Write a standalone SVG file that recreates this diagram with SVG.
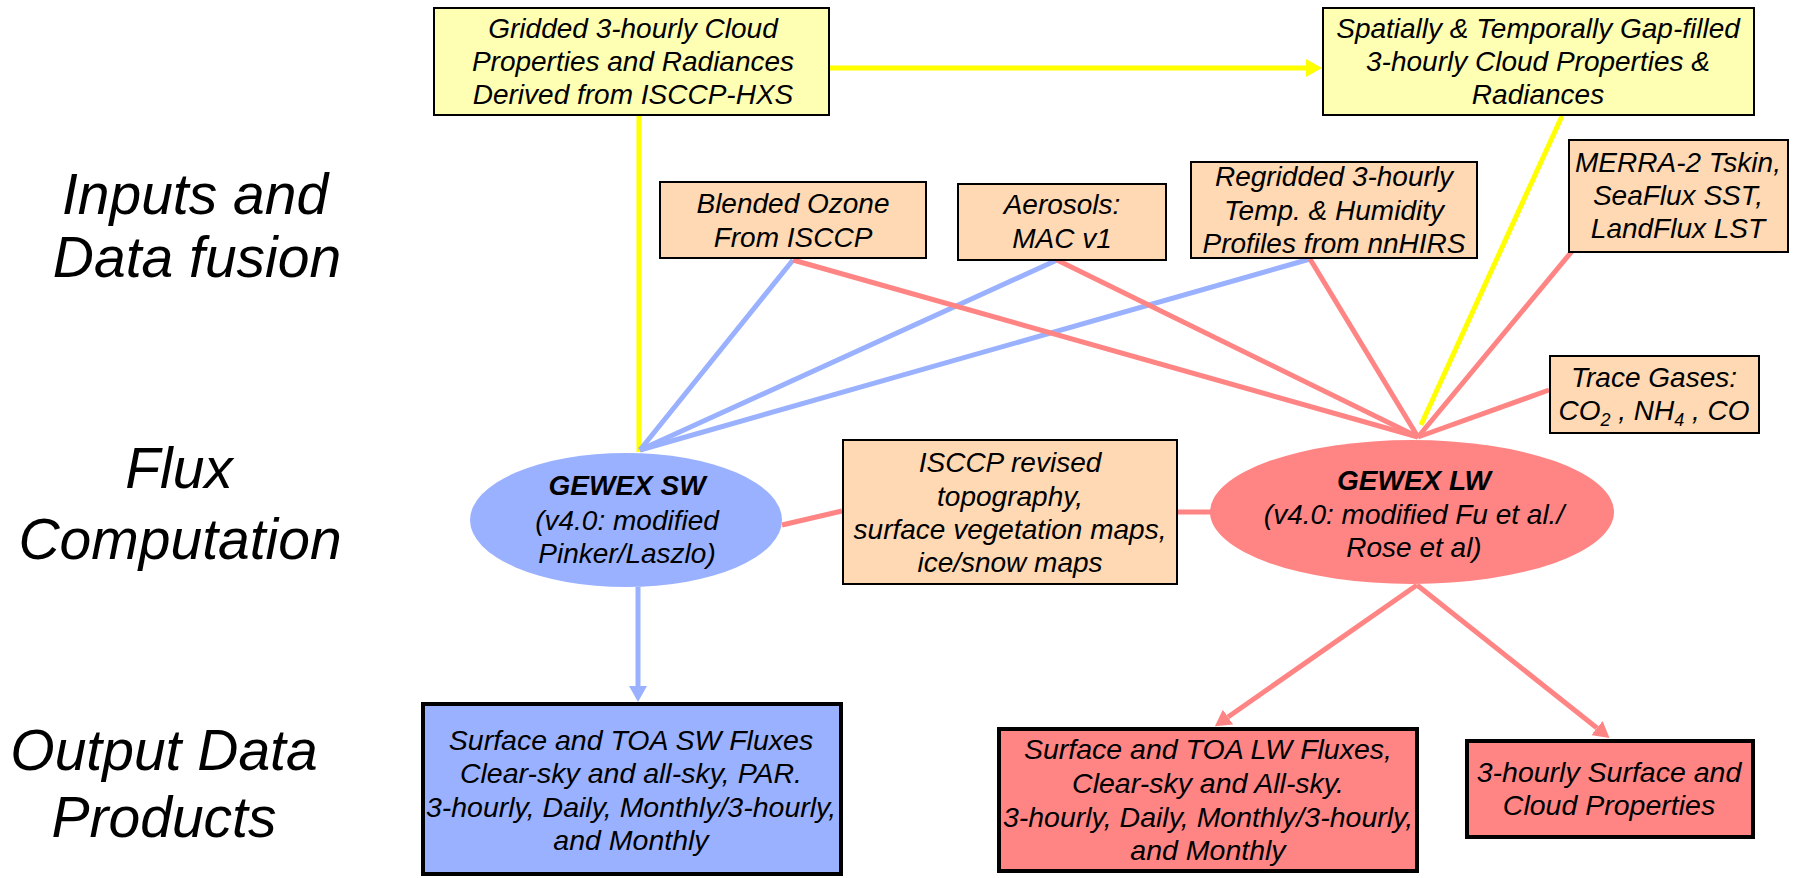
<svg xmlns="http://www.w3.org/2000/svg" width="1802" height="878" viewBox="0 0 1802 878">
  <style>
    text { font-family: "Liberation Sans", Arial, sans-serif; font-style: italic; fill: #000; }
    .lbl { font-size: 57px; text-anchor: middle; }
    .t { font-size: 28px; text-anchor: middle; }
    .o { font-size: 28.5px; }
    .b { font-weight: bold; }
    .inY { fill: #FFFFB3; stroke: #000; stroke-width: 2; }
    .inO { fill: #FFD9B3; stroke: #000; stroke-width: 2; }
    .outB { fill: #9AB1FF; stroke: #000; stroke-width: 4; }
    .outR { fill: #FF8585; stroke: #000; stroke-width: 4; }
    .yl { stroke: #FFFF00; stroke-width: 5; fill: none; }
    .bl { stroke: #9AB1FF; stroke-width: 5; fill: none; }
    .pk { stroke: #FF8585; stroke-width: 5; fill: none; }
  </style>
  <defs>
    <marker id="ahY" markerUnits="userSpaceOnUse" markerWidth="16" markerHeight="18" viewBox="0 0 16 18" refX="0" refY="9" orient="auto">
      <path d="M0,0 L16,9 L0,18 z" fill="#FFFF00"/>
    </marker>
    <marker id="ahB" markerUnits="userSpaceOnUse" markerWidth="16" markerHeight="18" viewBox="0 0 16 18" refX="0" refY="9" orient="auto">
      <path d="M0,0 L16,9 L0,18 z" fill="#9AB1FF"/>
    </marker>
    <marker id="ahP" markerUnits="userSpaceOnUse" markerWidth="16" markerHeight="18" viewBox="0 0 16 18" refX="0" refY="9" orient="auto">
      <path d="M0,0 L16,9 L0,18 z" fill="#FF8585"/>
    </marker>
  </defs>

  <rect width="1802" height="878" fill="#fff"/>

  <!-- stage labels -->
  <g id="stage-labels">
    <text class="lbl" x="195" y="214">Inputs and</text>
    <text class="lbl" x="197" y="277">Data fusion</text>
    <text class="lbl" x="179" y="488">Flux</text>
    <text class="lbl" x="180" y="559">Computation</text>
    <text class="lbl" x="164" y="770">Output Data</text>
    <text class="lbl" x="164" y="837">Products</text>
  </g>

  <!-- connectors -->
  <g id="connectors">
    <line class="yl" x1="639" y1="116" x2="639" y2="452"/>
    <line class="yl" x1="830" y1="68" x2="1306" y2="68" marker-end="url(#ahY)"/>
    <line class="yl" x1="1562" y1="116" x2="1421" y2="425"/>

    <line class="bl" x1="793" y1="260" x2="640" y2="450" stroke-width="4"/>
    <line class="bl" x1="1057" y1="260" x2="640" y2="450"/>
    <line class="bl" x1="1310" y1="259" x2="640" y2="450" stroke-width="6"/>

    <line class="pk" x1="793" y1="260" x2="1418" y2="437"/>
    <line class="pk" x1="1057" y1="260" x2="1418" y2="437"/>
    <line class="pk" x1="1310" y1="259" x2="1418" y2="437"/>
    <line class="pk" x1="1573" y1="250" x2="1418" y2="437"/>
    <line class="pk" x1="1549" y1="390" x2="1418" y2="437"/>
    <line class="pk" x1="782" y1="525" x2="842" y2="511"/>
    <line class="pk" x1="1178" y1="512" x2="1212" y2="512"/>

    <line class="bl" x1="638" y1="587" x2="638" y2="686" marker-end="url(#ahB)"/>
    <line class="pk" x1="1417" y1="585" x2="1228" y2="717" marker-end="url(#ahP)"/>
    <line class="pk" x1="1417" y1="585" x2="1597" y2="728" marker-end="url(#ahP)"/>
  </g>

  <!-- inputs -->
  <g id="gridded-cloud">
    <rect class="inY" x="434" y="8" width="395" height="107"/>
    <text class="t" x="633" y="38">Gridded 3-hourly Cloud</text>
    <text class="t" x="633" y="71">Properties and Radiances</text>
    <text class="t" x="633" y="104">Derived from ISCCP-HXS</text>
  </g>
  <g id="gapfilled-cloud">
    <rect class="inY" x="1323" y="8" width="431" height="107"/>
    <text class="t" x="1538" y="38">Spatially &amp; Temporally Gap-filled</text>
    <text class="t" x="1538" y="71">3-hourly Cloud Properties &amp;</text>
    <text class="t" x="1538" y="104">Radiances</text>
  </g>
  <g id="ozone">
    <rect class="inO" x="660" y="182" width="266" height="76"/>
    <text class="t" x="793" y="213">Blended Ozone</text>
    <text class="t" x="793" y="247">From ISCCP</text>
  </g>
  <g id="aerosols">
    <rect class="inO" x="958" y="184" width="208" height="76"/>
    <text class="t" x="1062" y="214">Aerosols:</text>
    <text class="t" x="1062" y="248">MAC v1</text>
  </g>
  <g id="profiles">
    <rect class="inO" x="1191" y="162" width="286" height="96"/>
    <text class="t" x="1334" y="186">Regridded 3-hourly</text>
    <text class="t" x="1334" y="220">Temp. &amp; Humidity</text>
    <text class="t" x="1334" y="253">Profiles from nnHIRS</text>
  </g>
  <g id="surface-temp">
    <rect class="inO" x="1569" y="140" width="219" height="112"/>
    <text class="t" x="1678" y="172">MERRA-2 Tskin,</text>
    <text class="t" x="1678" y="205">SeaFlux SST,</text>
    <text class="t" x="1678" y="238">LandFlux LST</text>
  </g>
  <g id="trace-gases">
    <rect class="inO" x="1550" y="356" width="209" height="77"/>
    <text class="t" x="1654" y="387">Trace Gases:</text>
    <text class="t" x="1654" y="420">CO<tspan font-size="18" dy="6">2</tspan><tspan dy="-6"> , NH</tspan><tspan font-size="18" dy="6">4</tspan><tspan dy="-6"> , CO</tspan></text>
  </g>
  <g id="surface-maps">
    <rect class="inO" x="843" y="440" width="334" height="144"/>
    <text class="t" x="1010" y="472">ISCCP revised</text>
    <text class="t" x="1010" y="506">topography,</text>
    <text class="t" x="1010" y="539">surface vegetation maps,</text>
    <text class="t" x="1010" y="572">ice/snow maps</text>
  </g>

  <!-- flux models -->
  <g id="gewex-sw">
    <ellipse cx="626" cy="520" rx="156" ry="67" fill="#9AB1FF"/>
    <text class="t b" x="627" y="495">GEWEX SW</text>
    <text class="t" x="627" y="530">(v4.0: modified</text>
    <text class="t" x="627" y="563">Pinker/Laszlo)</text>
  </g>
  <g id="gewex-lw">
    <ellipse cx="1412" cy="512" rx="202" ry="72" fill="#FF8585"/>
    <text class="t b" x="1414" y="490">GEWEX LW</text>
    <text class="t" x="1414" y="524">(v4.0: modified Fu et al./</text>
    <text class="t" x="1414" y="557">Rose et al)</text>
  </g>

  <!-- outputs -->
  <g id="sw-products">
    <rect class="outB" x="423" y="704" width="418" height="170"/>
    <text class="t o" x="631" y="750">Surface and TOA SW Fluxes</text>
    <text class="t o" x="631" y="783">Clear-sky and all-sky, PAR.</text>
    <text class="t o" x="631" y="817">3-hourly, Daily, Monthly/3-hourly,</text>
    <text class="t o" x="631" y="850">and Monthly</text>
  </g>
  <g id="lw-products">
    <rect class="outR" x="999" y="729" width="418" height="142"/>
    <text class="t o" x="1208" y="759">Surface and TOA LW Fluxes,</text>
    <text class="t o" x="1208" y="793">Clear-sky and All-sky.</text>
    <text class="t o" x="1208" y="827">3-hourly, Daily, Monthly/3-hourly,</text>
    <text class="t o" x="1208" y="860">and Monthly</text>
  </g>
  <g id="cloud-products">
    <rect class="outR" x="1467" y="741" width="286" height="96"/>
    <text class="t o" x="1609" y="782">3-hourly Surface and</text>
    <text class="t o" x="1609" y="815">Cloud Properties</text>
  </g>
</svg>
